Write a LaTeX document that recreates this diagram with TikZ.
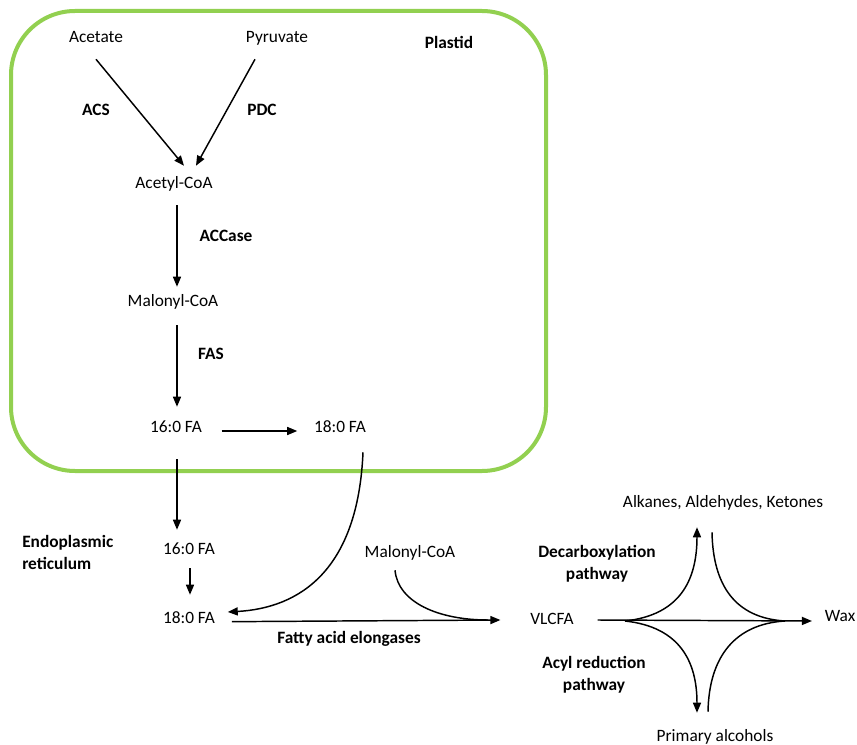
\documentclass[tikz,border=0pt]{standalone}
\usepackage{fontspec}
\setmainfont{Carlito}
\usetikzlibrary{arrows.meta}
\definecolor{plastidgreen}{HTML}{92D050}
\tikzset{
  txt/.style={font=\fontsize{13pt}{16.5pt}\selectfont, inner sep=0pt,
    text height=9.5pt, text depth=2.5pt},
  enz/.style={txt, font=\fontsize{13pt}{16.5pt}\selectfont\bfseries},
  enztwo/.style={font=\fontsize{13pt}{16.5pt}\selectfont\bfseries, inner sep=0pt},
  arr/.style={line width=1.1pt, -{Triangle[length=7.5pt,width=6pt]}},
  link/.style={line width=1.1pt},
  plastid/.style={draw=plastidgreen, line width=3pt, rounded corners=48pt}
}

\begin{document}
\begin{tikzpicture}[x=0.75pt, y=-0.75pt]
	\useasboundingbox (0,0) rectangle (857,745);
	% plastid
	\draw[plastid] (11,11) rectangle (546,471);
	\node[enz] (plastidlbl) at (449,44) {Plastid};
	\node[txt] (acetate) at (96,38) {Acetate};
	\node[txt] (pyruvate) at (277,38) {Pyruvate};
	\node[txt] (acetyl) at (174,184) {Acetyl-CoA};
	\node[txt] (malonylp) at (173,302) {Malonyl-CoA};
	\node[txt] (fa16p) at (176,428) {16:0 FA};
	\node[txt] (fa18p) at (340,428) {18:0 FA};
	\node[enz] (acs) at (96,111) {ACS};
	\node[enz] (pdc) at (262,111) {PDC};
	\node[enz] (accase) at (226,237) {ACCase};
	\node[enz] (fas) at (211,355) {FAS};
	\draw[arr] ([yshift=-9.75pt]acetate.south) -- ([xshift=7.5pt,yshift=7.5pt]acetyl.north);
	\draw[arr] ([xshift=-16.5pt,yshift=-9.75pt]pyruvate.south) -- ([xshift=16.5pt,yshift=7.5pt]acetyl.north);
	\draw[arr] ([xshift=2.25pt,yshift=-9.75pt]acetyl.south) -- ([xshift=3pt,yshift=5.25pt]malonylp.north);
	\draw[arr] ([xshift=3pt,yshift=-11.25pt]malonylp.south) -- ([xshift=0.75pt,yshift=9.75pt]fa16p.north);
	\draw[arr, shorten <=14.6pt, shorten >=12.4pt] ([yshift=-2.25pt]fa16p.east) -- ([yshift=-2.25pt]fa18p.west);
	% endoplasmic reticulum
	\node[enztwo, anchor=west, align=left] (er) at (22,552) {Endoplasmic\\reticulum};
	\node[txt] (fa16e) at (189,550) {16:0 FA};
	\node[txt] (fa18e) at (189,619) {18:0 FA};
	\node[txt] (malonyle) at (410,553) {Malonyl-CoA};
	\node[txt] (vlcfa) at (552,620) {VLCFA};
	\node[enz] (elong) at (349,639) {Fatty acid elongases};
	\draw[arr] ([xshift=0.75pt,yshift=-17.25pt]fa16p.south) -- ([xshift=-9pt,yshift=9pt]fa16e.north);
	\draw[arr] ([xshift=0.75pt,yshift=-7.5pt]fa16e.south) -- ([xshift=0.75pt,yshift=12pt]fa18e.north);
	\draw[arr] ([xshift=17.25pt,yshift=-12pt]fa18p.south) .. controls +(-5,118) and +(72,-4) .. ([xshift=9.4pt,yshift=5.25pt]fa18e.east);
	\draw[arr] ([xshift=12.4pt,yshift=-2pt]fa18e.east) -- ([xshift=-22.3pt]vlcfa.west);
	\coordinate (merge) at (488,620);
	\draw[link] ([xshift=-11.25pt,yshift=-6.75pt]malonyle.south) .. controls +(3,32) and +(-50,0) .. (merge);
	% wax branches
	\node[txt] (wax) at (840,617) {Wax};
	\node[txt] (alkanes) at (723,503) {Alkanes, Aldehydes, Ketones};
	\node[txt] (alcohols) at (715,737) {Primary alcohols};
	\node[enztwo, align=center] (decarb) at (597,564) {Decarboxylation\\pathway};
	\node[enztwo, align=center] (acylred) at (594,675) {Acyl reduction\\pathway};
	\coordinate (split) at (625,621);
	\coordinate (join) at (785,621);
	\draw[arr] ([xshift=17.8pt]vlcfa.east) -- ([xshift=-9.4pt,yshift=-3pt]wax.west);
	\draw[arr] (split) .. controls +(55,-6) and +(0,53) .. ([xshift=-19.5pt,yshift=-12pt]alkanes.south);
	\draw[link] ([xshift=-8.25pt,yshift=-15.75pt]alkanes.south) .. controls +(1,53) and +(-50,-3) .. (join);
	\draw[arr] (split) .. controls +(55,6) and +(0,-51) .. ([xshift=-13.5pt,yshift=12pt]alcohols.north);
	\draw[link] ([xshift=-5.25pt,yshift=12.75pt]alcohols.north) .. controls +(1,-55) and +(-50,3) .. (join);
\end{tikzpicture}
\end{document}
